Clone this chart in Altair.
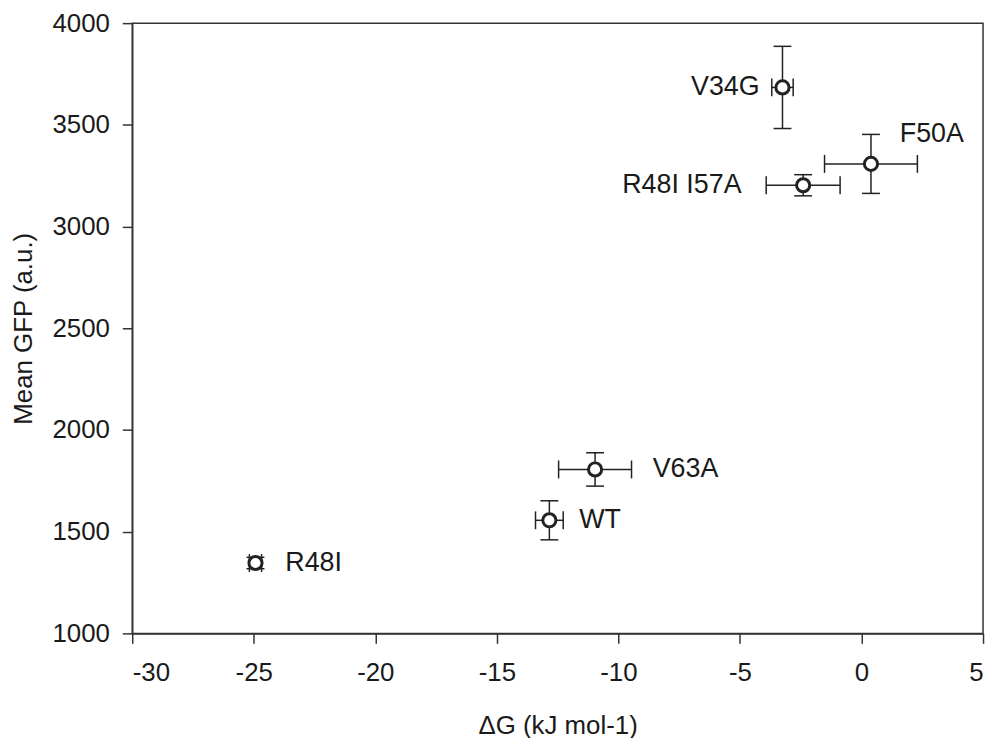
import altair as alt
import pandas as pd

# mutants: free energy (kJ/mol) vs mean GFP fluorescence
names = ["V34G", "F50A", "R48I I57A", "V63A", "WT", "R48I"]
dg = [-3.25, 0.39, -2.40, -10.96, -12.84, -24.93]
dg_err = [0.44, 1.91, 1.52, 1.50, 0.57, 0.25]
gfp = [3684, 3308, 3203, 1806, 1556, 1346]
gfp_err = [202, 145, 52, 82, 96, 28]

x_ticks = [-30, -25, -20, -15, -10, -5, 0, 5]
y_ticks = [1000, 1500, 2000, 2500, 3000, 3500, 4000]

df = pd.DataFrame({"name": names, "dg": dg, "dg_err": dg_err, "gfp": gfp, "gfp_err": gfp_err})
df["dg_lo"] = df["dg"] - df["dg_err"]
df["dg_hi"] = df["dg"] + df["dg_err"]
df["gfp_lo"] = df["gfp"] - df["gfp_err"]
df["gfp_hi"] = df["gfp"] + df["gfp_err"]

FONT = "Liberation Sans"
INK = "#222222"

x_scale = alt.Scale(domain=[-30, 5], nice=False, zero=False)
y_scale = alt.Scale(domain=[1000, 4000], nice=False, zero=False)

base = alt.Chart(df)

# plain labels: no thousands separator, ascii hyphen for negatives
plain = "'' + datum.value"

x_enc = alt.X(
    "dg:Q",
    scale=x_scale,
    axis=alt.Axis(values=x_ticks, labelExpr=plain, title="ΔG (kJ mol-1)",
                  titlePadding=28, labelPadding=16),
)
y_enc = alt.Y(
    "gfp:Q",
    scale=y_scale,
    axis=alt.Axis(values=y_ticks, labelExpr=plain, title="Mean GFP (a.u.)",
                  titlePadding=16, labelPadding=13),
)

# horizontal and vertical error bars
x_bar = base.mark_rule(color=INK, strokeWidth=1.5).encode(
    x=alt.X("dg_lo:Q", scale=x_scale), x2="dg_hi:Q", y=alt.Y("gfp:Q", scale=y_scale)
)
y_bar = base.mark_rule(color=INK, strokeWidth=1.5).encode(
    y=alt.Y("gfp_lo:Q", scale=y_scale), y2="gfp_hi:Q", x=alt.X("dg:Q", scale=x_scale)
)

# caps
x_caps = [
    base.mark_tick(orient="vertical", color=INK, size=18, thickness=1.5, opacity=1).encode(
        x=alt.X(f"{c}:Q", scale=x_scale), y=alt.Y("gfp:Q", scale=y_scale)
    )
    for c in ["dg_lo", "dg_hi"]
]
y_caps = [
    base.mark_tick(orient="horizontal", color=INK, size=18, thickness=1.5, opacity=1).encode(
        y=alt.Y(f"{c}:Q", scale=y_scale), x=alt.X("dg:Q", scale=x_scale)
    )
    for c in ["gfp_lo", "gfp_hi"]
]

points = base.mark_point(
    shape="circle", filled=False, fill="white", fillOpacity=1,
    stroke=INK, strokeWidth=3, size=175, opacity=1,
).encode(x=x_enc, y=y_enc, tooltip=["name", "dg", "gfp"])

# label placement (dx, dy, align) per mutant
label_offsets = {
    "V34G": (-23, 0, "right"),
    "F50A": (29, -30, "left"),
    "R48I I57A": (-62, 0, "right"),
    "V63A": (58, 0, "left"),
    "WT": (30, 0, "left"),
    "R48I": (30, 0, "left"),
}
labels = [
    base.transform_filter(alt.datum.name == n).mark_text(
        font=FONT, fontSize=27, color="#1a1a1a", align=a, baseline="middle", dx=dx, dy=dy
    ).encode(x=alt.X("dg:Q", scale=x_scale), y=alt.Y("gfp:Q", scale=y_scale), text="name:N")
    for n, (dx, dy, a) in label_offsets.items()
]

chart = alt.layer(x_bar, y_bar, *x_caps, *y_caps, points, *labels).properties(
    width=856,
    height=614,
    autosize=alt.AutoSizeParams(type="none"),
    padding={"left": 125, "top": 13, "right": 5, "bottom": 103},
    background="white",
).configure_view(
    stroke="#333333", strokeWidth=1.5
).configure_axis(
    grid=False,
    domainColor="#333333",
    domainWidth=1.5,
    tickColor="#333333",
    tickWidth=1.5,
    tickSize=10,
    labelFont=FONT,
    labelFontSize=26,
    labelColor="#1a1a1a",
    titleFont=FONT,
    titleFontSize=26,
    titleFontWeight="normal",
    titleColor="#1a1a1a",
)

chart.save("out.html", embed_options={"renderer": "svg", "actions": False})
